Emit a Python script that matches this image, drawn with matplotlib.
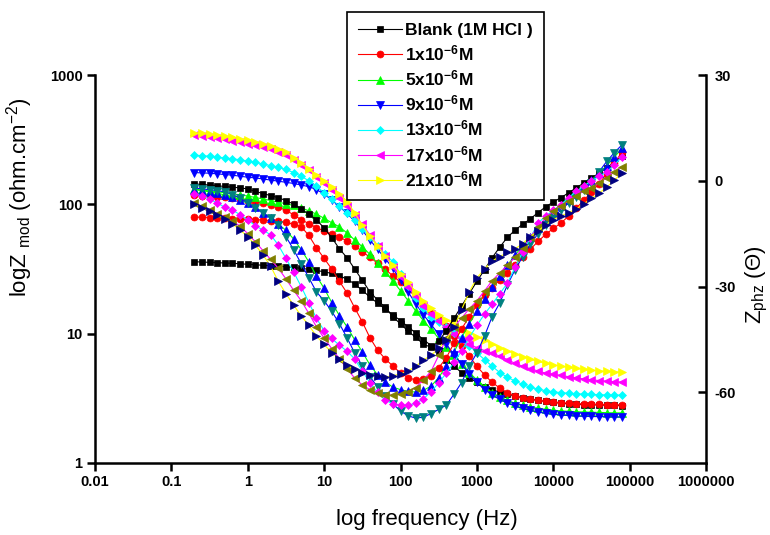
import numpy as np
import matplotlib
matplotlib.use('Agg')
import matplotlib.pyplot as plt

# fonts: Arial look-alike, bold tick labels and legend
plt.rcParams['font.family'] = ['Liberation Sans', 'DejaVu Sans']
plt.rcParams['mathtext.fontset'] = 'custom'
plt.rcParams['mathtext.rm'] = 'Liberation Sans'
plt.rcParams['mathtext.bf'] = 'Liberation Sans:bold'
plt.rcParams['mathtext.it'] = 'Liberation Sans:italic'

# measurement grid (10 points / decade, ~0.2 Hz .. 80 kHz)
freq = np.logspace(-0.7, 4.9, 57)

labels = ['Blank (1M HCl )', r'1x10$^{\mathbf{-6}}$M', r'5x10$^{\mathbf{-6}}$M',
          r'9x10$^{\mathbf{-6}}$M', r'13x10$^{\mathbf{-6}}$M',
          r'17x10$^{\mathbf{-6}}$M', r'21x10$^{\mathbf{-6}}$M']

# |Z| (ohm.cm-2)
z_blank = [36.0, 35.8, 35.6, 35.4, 35.2, 35.0, 34.7, 34.4, 34.1, 33.8,
           33.5, 33.2, 32.9, 32.5, 32.0, 31.4, 30.8, 30.1, 29.2, 28.0,
           26.4, 24.2, 21.6, 19.2, 17.2, 15.5, 14.0, 12.6, 11.3, 10.1,
           9.0, 8.1, 7.2, 6.3, 5.6, 5.0, 4.55, 4.2, 3.9, 3.7,
           3.52, 3.4, 3.3, 3.2, 3.12, 3.05, 2.99, 2.94, 2.9, 2.87,
           2.85, 2.83, 2.82, 2.81, 2.8, 2.79, 2.78]
z_1 = [118, 117, 116, 114, 113, 111, 109, 107, 105, 102,
       99, 95, 90, 83, 76, 71, 66, 62, 59, 56,
       52, 48, 43, 39, 35, 31.5, 28, 25, 22, 19.2,
       16.8, 14.8, 13.2, 11.5, 9.6, 8.0, 6.7, 5.6, 4.8, 4.2,
       3.8, 3.5, 3.3, 3.18, 3.1, 3.05, 3.0, 2.96, 2.93, 2.9,
       2.88, 2.86, 2.85, 2.84, 2.83, 2.82, 2.82]
z_5 = [131, 129, 127, 125, 123, 121, 118, 116, 113, 110,
       107, 104, 101, 98, 94, 89, 84, 78, 72, 67,
       60, 53, 47, 41, 35, 30, 25.5, 21.5, 18, 15,
       12.6, 10.8, 9.2, 7.9, 6.8, 5.8, 5.0, 4.4, 3.9, 3.5,
       3.25, 3.05, 2.9, 2.8, 2.71, 2.65, 2.6, 2.56, 2.53, 2.51,
       2.49, 2.48, 2.47, 2.46, 2.45, 2.44, 2.44]
z_9 = [176, 175, 174, 172, 170, 168, 165, 162, 160, 157,
       154, 151, 148, 145, 141, 137, 130, 120, 108, 96,
       85, 74, 63, 53, 45, 38, 32, 26, 21, 17,
       14, 11.8, 9.9, 8.3, 6.9, 5.8, 4.9, 4.2, 3.7, 3.35,
       3.1, 2.9, 2.76, 2.64, 2.55, 2.48, 2.42, 2.38, 2.35, 2.33,
       2.31, 2.3, 2.29, 2.28, 2.28, 2.27, 2.27]
z_13 = [240, 238, 235, 232, 228, 225, 221, 216, 211, 205,
        199, 193, 186, 176, 165, 152, 138, 123, 109, 97,
        86, 75, 65, 56, 48, 41, 36, 29, 23.5, 19,
        15.8, 13.4, 12.2, 11.2, 10.2, 9.2, 8.1, 7.1, 6.3, 5.6,
        5.0, 4.6, 4.3, 4.05, 3.85, 3.72, 3.62, 3.55, 3.5, 3.46,
        3.43, 3.41, 3.39, 3.37, 3.36, 3.35, 3.35]
z_17 = [344, 338, 332, 325, 318, 311, 303, 295, 286, 277,
        266, 254, 240, 222, 203, 183, 163, 145, 128, 112,
        97, 83, 70, 58, 48, 40, 33, 27.5, 23, 19.5,
        16.5, 14.3, 12.5, 11.2, 10.0, 9.0, 8.3, 7.8, 7.4, 7.1,
        6.7, 6.3, 5.9, 5.6, 5.35, 5.15, 4.95, 4.85, 4.75, 4.65,
        4.55, 4.47, 4.4, 4.34, 4.29, 4.25, 4.22]
z_21 = [358, 353, 348, 342, 336, 329, 321, 313, 304, 294,
        283, 270, 252, 230, 208, 186, 168, 152, 137, 121,
        105, 86, 69, 57, 48, 40, 34, 29, 25, 21,
        18, 15.8, 14, 12.8, 11.8, 10.9, 10.1, 9.5, 8.9, 8.3,
        7.8, 7.35, 7.0, 6.65, 6.35, 6.1, 5.9, 5.75, 5.6, 5.48,
        5.38, 5.29, 5.22, 5.16, 5.11, 5.07, 5.05]

# phase angle (deg)
ph_blank = [-0.9, -1.0, -1.2, -1.4, -1.6, -1.8, -2.0, -2.3, -3.0, -3.6,
            -4.2, -4.8, -5.6, -6.6, -8.0, -9.5, -11.0, -13.4, -16.1, -19.3,
            -21.8, -25.0, -28.2, -31.5, -33.8, -35.9, -38.5, -40.6, -42.6, -44.4,
            -46.3, -47.2, -45.5, -42.5, -39.0, -35.5, -32.0, -28.5, -25.2, -21.8,
            -18.8, -16.0, -14.0, -12.3, -10.8, -9.0, -7.4, -6.0, -4.8, -3.4,
            -2.0, -0.6, 0.8, 2.2, 3.7, 5.3, 7.0]
ph_1 = [-10.3, -10.3, -10.4, -10.5, -10.6, -10.7, -10.8, -10.9, -11.0, -11.1,
        -11.3, -11.5, -11.8, -12.3, -13.0, -15.5, -19.0, -22.0, -25.0, -28.5,
        -31.8, -36.0, -40.0, -44.5, -48.0, -50.5, -52.5, -54.5, -55.8, -56.5,
        -56.3, -55.3, -53.0, -50.2, -46.0, -42.0, -38.5, -35.3, -32.5, -30.3,
        -28.0, -26.0, -23.8, -21.6, -19.4, -17.2, -15.2, -13.5, -12.0, -10.0,
        -7.8, -5.5, -3.2, -0.8, 2.0, 5.0, 8.2]
ph_5 = [-2.5, -2.8, -3.1, -3.5, -4.0, -4.6, -5.4, -6.4, -7.5, -9.0,
        -10.6, -12.3, -14.0, -16.5, -19.5, -23.0, -27.0, -30.5, -34.5, -38.2,
        -41.4, -45.1, -48.5, -52.2, -55.0, -57.0, -58.5, -59.2, -59.7, -59.9,
        -59.4, -58.2, -55.8, -52.5, -48.5, -44.5, -40.5, -37.0, -33.5, -30.0,
        -27.0, -24.0, -21.0, -18.5, -16.0, -13.5, -11.3, -9.2, -7.2, -5.3,
        -3.4, -1.6, 0.2, 2.2, 4.3, 6.7, 9.3]
ph_9 = [-2.0, -2.3, -2.5, -2.8, -3.1, -3.9, -4.9, -6.3, -7.7, -9.1,
        -10.6, -12.5, -15.8, -19.5, -23.5, -27.5, -31.5, -34.0, -37.0, -40.5,
        -44.5, -48.8, -52.5, -55.5, -58.5, -61.0, -63.2, -65.3, -66.6, -67.3,
        -67.0, -66.0, -64.8, -63.6, -60.5, -57.2, -52.5, -48.8, -44.0, -38.5,
        -34.6, -29.5, -25.2, -21.5, -18.0, -15.0, -12.5, -10.3, -8.3, -6.3,
        -4.5, -2.6, -0.6, 2.6, 5.5, 8.0, 10.2]
ph_13 = [-3.6, -4.3, -5.2, -6.3, -7.5, -8.3, -9.6, -11.1, -12.7, -14.0,
         -15.3, -18.2, -22.0, -25.8, -30.0, -34.5, -39.0, -42.5, -44.7, -46.6,
         -48.3, -50.5, -54.0, -57.2, -60.0, -62.2, -63.2, -63.6, -63.6, -63.1,
         -61.8, -59.8, -57.3, -54.5, -51.5, -48.2, -44.5, -41.0, -37.8, -35.0,
         -32.0, -29.0, -24.5, -20.2, -16.2, -12.0, -10.0, -8.4, -6.8, -4.8,
         -3.0, -1.5, 0.0, 1.3, 2.5, 4.5, 6.8]
ph_17 = [-6.3, -7.2, -8.2, -9.3, -10.3, -11.5, -12.8, -15.0, -17.3, -19.8,
         -22.3, -24.8, -27.8, -31.0, -34.0, -37.6, -41.4, -44.6, -47.6, -50.4,
         -53.3, -55.9, -57.9, -59.2, -60.2, -60.7, -60.7, -60.4, -59.8, -58.6,
         -56.4, -54.0, -49.5, -44.6, -41.5, -38.9, -36.3, -34.0, -31.2, -28.3,
         -26.1, -23.9, -21.7, -19.0, -16.0, -13.0, -10.5, -8.5, -7.1, -5.7,
         -4.2, -2.9, -1.9, -0.7, 0.9, 2.5, 3.9]
ph_21 = [-6.6, -7.6, -8.5, -9.6, -10.8, -12.2, -14.0, -15.8, -18.2, -21.0,
         -24.2, -28.5, -32.0, -35.2, -38.3, -41.0, -44.0, -46.4, -48.7, -50.6,
         -52.3, -53.4, -54.4, -55.0, -55.4, -55.6, -55.3, -54.7, -53.9, -52.6,
         -50.8, -49.5, -47.5, -45.0, -41.5, -36.5, -31.5, -27.5, -25.0, -22.7,
         -21.5, -20.3, -19.3, -17.8, -15.8, -14.2, -12.5, -11.0, -10.0, -9.0,
         -8.0, -6.5, -5.0, -3.5, -1.8, 0.2, 2.2]

zmod = [z_blank, z_1, z_5, z_9, z_13, z_17, z_21]
zphz = [ph_blank, ph_1, ph_5, ph_9, ph_13, ph_17, ph_21]

xticks = [0.01, 0.1, 1, 10, 100, 1000, 10000, 100000, 1000000]
xticklabels = ['0.01', '0.1', '1', '10', '100', '1000', '10000', '100000', '1000000']
yticks = [1, 10, 100, 1000]
yticklabels = ['1', '10', '100', '1000']
y2ticks = [-60, -30, 0, 30]

# styles (Origin-like defaults)
line_cols = ['black', 'red', '#00ff00', 'blue', 'cyan', 'magenta', '#ffff00']
phase_cols = ['black', 'red', 'blue', '#008080', 'magenta', '#808000', '#000080']
markers = ['s', 'o', '^', 'v', 'D', '<', '>']
msizes = [4.3, 5.0, 5.5, 5.5, 4.3, 5.5, 5.5]

fig = plt.figure(figsize=(7.7, 5.35), dpi=100)
ax = fig.add_axes([95 / 770, 1 - 463 / 535, 611 / 770, 388 / 535])
ax2 = ax.twinx()

handles = []
for i in range(7):
    h, = ax.plot(freq, zmod[i], color=line_cols[i], lw=0.8, marker=markers[i],
                 ms=msizes[i], mfc=line_cols[i], mec=line_cols[i], mew=0.5)
    handles.append(h)
    ax2.plot(freq, zphz[i], color=line_cols[i], lw=0.8, marker=markers[i],
             ms=msizes[i], mfc=phase_cols[i], mec=phase_cols[i], mew=0.5)

ax.set_xscale('log')
ax.set_yscale('log')
ax.set_xlim(0.01, 1000000)
ax.set_ylim(1, 1000)
ax2.set_ylim(-80, 30)

ax.set_xticks(xticks)
ax.set_xticklabels(xticklabels, fontweight='bold', fontsize=10.5)
ax.set_yticks(yticks)
ax.set_yticklabels(yticklabels, fontweight='bold', fontsize=10.5)
ax.minorticks_off()
ax2.set_yticks(y2ticks)
ax2.set_yticklabels([str(v) for v in y2ticks], fontweight='bold', fontsize=10.5)

ax.tick_params(direction='out', length=6, width=1.8, pad=3)
ax2.tick_params(direction='in', length=6, width=1.8, pad=6)

for a in (ax, ax2):
    a.spines['top'].set_visible(False)
    for s in a.spines.values():
        s.set_linewidth(1.8)
ax.spines['right'].set_visible(False)
ax2.spines['left'].set_visible(False)
ax2.spines['bottom'].set_visible(False)

ax.set_xlabel('log frequency (Hz)', fontsize=16)
ax.xaxis.set_label_coords(0.543, -0.118)
ax.set_ylabel(r'logZ $_{\rm mod}$ (ohm.cm$^{-2}$)', fontsize=16)
ax.yaxis.set_label_coords(-0.099, 0.686)
ax2.set_ylabel(r'Z$_{\rm phz}$ (Θ)', fontsize=16)
ax2.yaxis.set_label_coords(1.062, 0.459)

leg = fig.legend(handles, labels, loc='upper left',
                 bbox_to_anchor=(347 / 770, 1 - 12 / 535),
                 bbox_transform=fig.transFigure, fancybox=False,
                 edgecolor='black', framealpha=1, numpoints=1,
                 prop={'weight': 'bold', 'size': 12.5},
                 handlelength=2.5, handletextpad=0.2, labelspacing=0.3,
                 borderpad=0.65, borderaxespad=0)
leg.get_frame().set_linewidth(1.2)

fig.savefig('out.png', dpi=100)
